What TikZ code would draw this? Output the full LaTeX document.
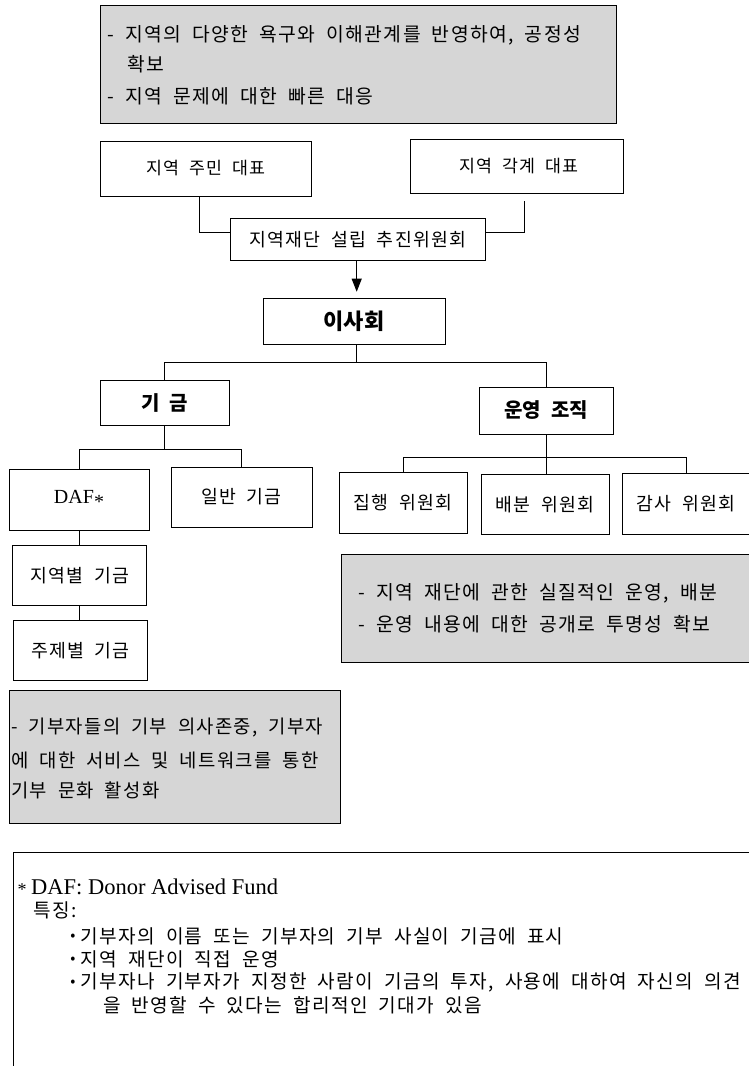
\documentclass[tikz,border=0pt]{standalone}
\usepackage{fontspec}
\setmainfont{Liberation Serif}
\newfontfamily\korfont[LetterSpace=7]{Noto Sans CJK KR}
\newfontfamily\korbold{Noto Sans CJK KR}
\usetikzlibrary{arrows.meta}
\definecolor{gfill}{RGB}{214,214,214}
\newcommand{\kset}{\spaceskip=0.58em\relax}
\newcommand{\bset}{\spaceskip=0.5em\relax}
\newcommand{\szA}{\fontsize{19.3pt}{22pt}\selectfont\kset}
\newcommand{\szB}{\fontsize{17.3pt}{20pt}\selectfont\kset}
\newcommand{\szBB}{\fontsize{18.3pt}{21pt}\selectfont\kset}
\newcommand{\szC}{\fontsize{18.8pt}{23pt}\selectfont\kset}
\newcommand{\szD}{\fontsize{22.5pt}{26pt}\selectfont}
\newcommand{\szE}{\fontsize{19.1pt}{23pt}\selectfont\kset}
\newcommand{\szF}{\fontsize{22pt}{25pt}\selectfont}
\newcommand{\szG}{\fontsize{20pt}{23pt}\selectfont\bset}
\newcommand{\szL}{\fontsize{20pt}{24pt}\selectfont}
\newcommand{\szM}{\fontsize{15pt}{18pt}\selectfont}
\begin{document}
\begin{tikzpicture}[x=1pt,y=-1pt,
  box/.style={draw=black, line width=1pt, fill=white, inner sep=0pt, align=center},
  gbox/.style={draw=black, line width=1pt, fill=gfill, inner sep=0pt},
  txt/.style={inner sep=0pt, anchor=west},
  conn/.style={draw=black, line width=1pt},
  lbl/.style={font=\korfont\szBB},
  blbl/.style={font=\korbold\bfseries\szG},
  bul/.style={inner sep=0pt, anchor=center, font=\korfont\szM}]
\useasboundingbox (0,0) rectangle (748,1066);

% top note
\node[gbox, minimum width=515.2pt, minimum height=118.3pt] (topgray) at (358.4,64.15) {};
\node[txt, font=\korfont\szA] (t1) at (107,35) {- 지역의 다양한 욕구와 이해관계를 반영하여, 공정성};
\node[txt, font=\korfont\szA] (t2) at (127,64) {확보};
\node[txt, font=\korfont\szA] (t3) at (107,96) {- 지역 문제에 대한 빠른 대응};

% representatives
\node[box, minimum width=210.2pt, minimum height=55pt, font=\korfont\szB] (jumin) at (205.9,168.5) {지역 주민 대표};
\node[box, minimum width=212.5pt, minimum height=53.7pt, font=\korfont\szB] (gakgye) at (516.75,166.15) {\hspace*{4pt}지역 각계 대표};
\node[box, minimum width=254.3pt, minimum height=42.7pt, lbl] (chujin) at (357.85,239.35) {지역재단 설립 추진위원회};

\coordinate (lc) at (199.5,232.7);
\coordinate (rtop) at (524.3,201);
\coordinate (rc) at (524.3,232.7);
\draw[conn] (jumin.south -| lc) -- (lc) -- (chujin.west |- lc);
\draw[conn] (rtop) -- (rc) -- (chujin.east |- rc);

% board
\node[box, minimum width=182pt, minimum height=46pt, font=\korbold\bfseries\szF] (isahoe) at (354,321) {이사회};
\coordinate (atip) at (356.7,291.7);
\draw[conn, -{Triangle[length=13pt,width=10pt]}] (chujin.south -| atip) -- (atip);

\node[box, minimum width=129pt, minimum height=44.3pt, blbl] (gigeum) at (164.5,402.85) {기 금};
\node[box, minimum width=134pt, minimum height=47pt, blbl] (unyeong) at (546,410.5) {운영 조직};
\coordinate (h1) at (356.7,362.7);
\draw[conn] (isahoe.south -| h1) -- (h1);
\draw[conn] (gigeum.north) |- (h1 -| unyeong.north) -- (unyeong.north);

% funds
\node[box, minimum width=140pt, minimum height=61pt, font=\szL] (daf) at (79,499.5) {DAF\raisebox{-0.28em}{*}};
\node[box, minimum width=141pt, minimum height=60pt, lbl] (ilban) at (241.5,497) {일반 기금};
\coordinate (h2) at (164.5,449);
\draw[conn] (gigeum.south) -- (h2);
\draw[conn] (daf.north) |- (h2 -| ilban.north) -- (ilban.north);

\node[box, minimum width=134pt, minimum height=60.7pt, lbl] (jiyeok) at (79.7,575.35) {지역별 기금};
\node[box, minimum width=134.4pt, minimum height=60.7pt, lbl] (juje) at (80.5,650.35) {주제별 기금};
\draw[conn] (daf.south) -- (daf.south |- jiyeok.north);
\draw[conn] (jiyeok.south) -- (jiyeok.south |- juje.north);

% committees
\node[box, minimum width=128pt, minimum height=60.3pt, lbl] (jiphaeng) at (403,502.85) {집행 위원회};
\node[box, minimum width=128pt, minimum height=60.7pt, lbl] (baebun) at (545,504.35) {배분 위원회};
\node[box, minimum width=128pt, minimum height=61pt, lbl] (gamsa) at (686,503.5) {감사 위원회};
\coordinate (h3) at (546,457);
\draw[conn] (unyeong.south) -- (unyeong.south |- baebun.north);
\draw[conn] (jiphaeng.north) |- (h3 -| gamsa.north) -- (gamsa.north);

% right note
\node[gbox, minimum width=419pt, minimum height=108pt] (rgray) at (550.5,608) {};
\node[txt, font=\korfont\szA] (r1) at (358,593) {- 지역 재단에 관한 실질적인 운영, 배분};
\node[txt, font=\korfont\szA] (r2) at (358,624) {- 운영 내용에 대한 공개로 투명성 확보};

% left note
\node[gbox, minimum width=331.4pt, minimum height=133.3pt] (lgray) at (175,756.65) {};
\node[txt, font=\korfont\szC] (l1) at (11,728) {- 기부자들의 기부 의사존중, 기부자};
\node[txt, font=\korfont\szC] (l2) at (11,760) {에 대한 서비스 및 네트워크를 통한};
\node[txt, font=\korfont\szC] (l3) at (11,790) {기부 문화 활성화};

% footnote box
\node[draw=black, line width=1pt, inner sep=0pt, minimum width=760pt, minimum height=240pt, anchor=north west] (note) at (13.4,851.7) {};
\node[inner sep=0pt, anchor=base, font=\fontsize{18pt}{20pt}\selectfont] (ast) at (22,895.5) {*};
\node[txt, font=\szD] (n1) at (31,886.7) {DAF: Donor Advised Fund};
\node[txt, font=\korfont\szE] (n2) at (33.5,910) {특징:};
\node[bul] (b1) at (73,937.5) {•};
\node[txt, font=\korfont\szE] (n3) at (80.5,936.7) {기부자의 이름 또는 기부자의 기부 사실이 기금에 표시};
\node[bul] (b2) at (73,959.8) {•};
\node[txt, font=\korfont\szE] (n4) at (80.5,959) {지역 재단이 직접 운영};
\node[bul] (b3) at (73,983.5) {•};
\node[txt, font=\korfont\szE] (n5) at (80.5,982.7) {기부자나 기부자가 지정한 사람이 기금의 투자, 사용에 대하여 자신의 의견};
\node[txt, font=\korfont\szE] (n6) at (103,1005.5) {을 반영할 수 있다는 합리적인 기대가 있음};
\end{tikzpicture}
\end{document}
